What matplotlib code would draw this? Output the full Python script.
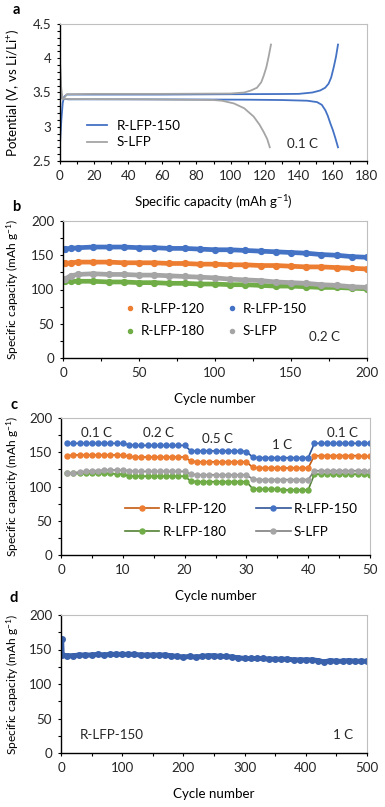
"""LFP 正极材料电化学性能四联图 (a 充放电曲线, b 0.2C 循环, c 倍率性能, d 1C 长循环)"""

import matplotlib.pyplot as plt
from matplotlib.ticker import MultipleLocator

plt.rcParams["font.family"] = ["Lato", "DejaVu Sans"]
plt.rcParams["mathtext.default"] = "regular"

FS = 9.6  # 全图字号
FS_Y = 8.6  # 纵轴标题字号

# ---------------- 颜色 ----------------
ORANGE = "#ED7D31"
BLUE = "#4472C4"
GREEN = "#70AD47"
GRAY = "#A5A5A5"
ORANGE_DARK = "#C55A11"
BLUE_DARK = "#2F5597"
GREEN_DARK = "#548235"
GRAY_DARK = "#7F7F7F"
TEXT = "#262626"

# ---------------- a: 0.1C 充放电曲线 ----------------
r150_chg_cap = [0, 0.8, 1.6, 2.5, 4, 20, 60, 100, 130, 140, 148, 152.6, 155.5, 157.5, 159, 160.5, 161.8, 163]
r150_chg_v = [2.75, 3.1, 3.35, 3.44, 3.47, 3.47, 3.47, 3.475, 3.478, 3.48, 3.50, 3.53, 3.57, 3.63, 3.72, 3.87, 4.02, 4.2]
r150_dis_cap = [0, 0.5, 1.5, 5, 40, 80, 110, 130, 145, 150.7, 153.5, 155.6, 157, 158.5, 160, 161.5, 163]
r150_dis_v = [3.65, 3.46, 3.41, 3.40, 3.40, 3.398, 3.395, 3.39, 3.38, 3.36, 3.32, 3.24, 3.16, 3.05, 2.95, 2.83, 2.70]
slfp_chg_cap = [0, 0.6, 1.5, 2.5, 4, 20, 60, 100, 108, 112, 115.5, 118, 119.5, 121, 122.3, 123.7]
slfp_chg_v = [3.95, 3.6, 3.40, 3.42, 3.475, 3.48, 3.48, 3.485, 3.50, 3.53, 3.57, 3.65, 3.75, 3.87, 4.02, 4.2]
slfp_dis_cap = [0, 0.5, 1.5, 5, 50, 90, 95, 102, 108, 113.5, 117, 119.5, 121.5, 123]
slfp_dis_v = [3.95, 3.5, 3.41, 3.405, 3.40, 3.39, 3.38, 3.34, 3.27, 3.15, 3.03, 2.92, 2.82, 2.70]

# ---------------- b: 0.2C 循环 ----------------
cyc_b = [1, 5, 10, 20, 30, 40, 50, 60, 70, 80, 90, 100, 110, 120, 130, 140, 150, 160, 170, 180, 190, 200]
b_r120 = [138, 139, 140, 140, 140, 139, 139, 139, 138, 138, 137, 137, 136, 136, 135, 135, 134, 133, 133, 132, 131, 130]
b_r150 = [159, 160, 161, 162, 162, 162, 161, 161, 160, 160, 159, 158, 158, 157, 156, 155, 154, 153, 151, 150, 148, 147]
b_r180 = [113, 112, 112, 112, 111, 111, 110, 110, 109, 109, 108, 108, 107, 107, 106, 105, 105, 104, 103, 103, 102, 101]
b_slfp = [115, 120, 122, 123, 122, 122, 121, 121, 120, 119, 118, 117, 115, 114, 113, 111, 110, 109, 107, 106, 104, 103]

# ---------------- c: 倍率性能 ----------------
cyc_c = list(range(1, 51))
c_r120 = [145, 146, 146, 146, 146, 146, 146, 146, 146, 146,
          144, 143, 143, 143, 143, 143, 143, 143, 143, 143,
          137, 136, 136, 136, 136, 136, 136, 136, 136, 136,
          128, 127, 127, 127, 127, 127, 127, 127, 127, 127,
          145, 145, 145, 145, 145, 145, 145, 145, 144, 144]
c_r150 = [163, 163, 163, 163, 163, 163, 163, 163, 163, 163,
          161, 160, 160, 160, 160, 160, 160, 160, 160, 160,
          152, 152, 152, 152, 152, 152, 152, 152, 152, 151,
          143, 142, 142, 142, 142, 142, 142, 142, 142, 142,
          163, 163, 163, 163, 163, 163, 163, 163, 163, 163]
c_r180 = [120, 119, 119, 119, 119, 119, 119, 119, 118, 118,
          115, 115, 115, 115, 115, 115, 115, 115, 115, 115,
          108, 107, 107, 107, 107, 107, 107, 107, 107, 107,
          97, 96, 96, 96, 96, 95, 95, 95, 95, 95,
          118, 118, 118, 118, 118, 118, 118, 118, 118, 117]
c_slfp = [119, 120, 121, 122, 123, 123, 124, 124, 124, 124,
          123, 122, 122, 122, 122, 122, 122, 122, 122, 122,
          118, 117, 117, 117, 117, 117, 117, 117, 117, 117,
          111, 110, 110, 110, 110, 110, 110, 110, 110, 110,
          123, 123, 123, 123, 123, 123, 123, 123, 123, 122]
rate_labels = ["0.1 C", "0.2 C", "0.5 C", "1 C", "0.1 C"]
rate_label_x = [5.8, 15.7, 25.4, 35.8, 45.6]
rate_label_y = [178, 178, 169, 160, 178]

# ---------------- d: 1C 长循环 ----------------
cyc_d = [1, 2, 10, 20, 30, 40, 50, 60, 70, 80, 90, 100, 110, 120, 130, 140, 150, 160, 170, 180, 190,
         200, 210, 220, 230, 240, 250, 260, 270, 280, 290, 300, 310, 320, 330, 340, 350, 360, 370,
         380, 390, 400, 410, 420, 430, 440, 450, 460, 470, 480, 490, 500]
d_r150 = [165, 142, 141, 141, 142, 142, 142, 143, 142, 143, 143, 143, 143, 143, 142, 142, 142, 142,
          142, 141, 140, 139, 140, 139, 140, 141, 141, 140, 140, 139, 138, 137, 137, 137, 137, 136,
          136, 136, 136, 135, 135, 135, 135, 134, 132, 134, 133, 133, 134, 133, 133, 133]


def style_axis(ax, xmax, xmajor, xminor, ymin, ymax, ymajor, yminor, ylab_x, ylab_y=0.5):
    """Excel 风格坐标轴: 左下黑色, 右上浅灰, 刻度朝外"""
    ax.set_xlim(0, xmax)
    ax.set_ylim(ymin, ymax)
    ax.xaxis.set_major_locator(MultipleLocator(xmajor))
    ax.xaxis.set_minor_locator(MultipleLocator(xminor))
    ax.yaxis.set_major_locator(MultipleLocator(ymajor))
    ax.yaxis.set_minor_locator(MultipleLocator(yminor))
    for side in ["left", "bottom"]:
        ax.spines[side].set_color("black")
        ax.spines[side].set_linewidth(1.0)
    for side in ["top", "right"]:
        ax.spines[side].set_color("#BFBFBF")
        ax.spines[side].set_linewidth(0.8)
    ax.tick_params(which="both", direction="out", length=2.4, width=0.8, colors="black",
                   labelsize=FS, labelcolor=TEXT, pad=4)
    # 坐标轴标题位置按参考图像素换算
    ax.yaxis.set_label_coords(ylab_x, ylab_y)
    ax.yaxis.label.set_verticalalignment("center")
    ax.xaxis.set_label_coords(0.5, -0.30)
    ax.xaxis.label.set_verticalalignment("center")


fig = plt.figure(figsize=(3.85, 8.07), dpi=100)
W, H = 385.0, 807.0


def add_axes(left, right, top, bottom):
    return fig.add_axes([left / W, 1 - bottom / H, (right - left) / W, (bottom - top) / H])


ax_a = add_axes(60, 367, 24, 161)
ax_b = add_axes(63, 367, 221, 358)
ax_c = add_axes(61, 370, 418, 555)
ax_d = add_axes(61, 367, 615, 753)

CAP_LABEL = "Specific capacity (mAh g$^{-1}$)"

# a
ax_a.plot(r150_chg_cap, r150_chg_v, color=BLUE, lw=1.3, label="R-LFP-150")
ax_a.plot(r150_dis_cap, r150_dis_v, color=BLUE, lw=1.3)
ax_a.plot(slfp_chg_cap, slfp_chg_v, color=GRAY, lw=1.3, label="S-LFP")
ax_a.plot(slfp_dis_cap, slfp_dis_v, color=GRAY, lw=1.3)
style_axis(ax_a, 180, 20, 10, 2.5, 4.5, 0.5, 0.1, (13 - 60) / 307)
ax_a.set_yticks([2.5, 3, 3.5, 4, 4.5])
ax_a.set_yticklabels(["2.5", "3", "3.5", "4", "4.5"])
ax_a.set_xlabel(CAP_LABEL, fontsize=FS)
ax_a.set_ylabel("Potential (V, vs Li/Li$^{+}$)", fontsize=FS)
ax_a.legend(loc="center left", bbox_to_anchor=(0.065, 0.197), frameon=False, fontsize=FS,
            handlelength=1.5, handletextpad=0.75, labelspacing=0.35, borderpad=0)
ax_a.text(142, 2.75, "0.1 C", fontsize=FS, ha="center", va="center", color=TEXT)

# b
b_series = [(b_r120, ORANGE, "R-LFP-120"), (b_r150, BLUE, "R-LFP-150"),
            (b_r180, GREEN, "R-LFP-180"), (b_slfp, GRAY, "S-LFP")]
b_handles = {}
for y, col, lab in b_series:
    ax_b.plot(cyc_b, y, color=col, lw=3.4, solid_capstyle="round")
    b_handles[lab], = ax_b.plot(cyc_b, y, "o", color=col, ms=4.2, label=lab)
style_axis(ax_b, 200, 50, 25, 0, 200, 50, 25, (13 - 63) / 304, 0.46)
ax_b.set_xlabel("Cycle number", fontsize=FS)
ax_b.set_ylabel(CAP_LABEL, fontsize=FS_Y)
# 图例按行排列: 120/150 一行, 180/S-LFP 一行
b_order = ["R-LFP-120", "R-LFP-180", "R-LFP-150", "S-LFP"]
ax_b.legend([b_handles[k] for k in b_order], b_order, ncol=2, loc="center left",
            bbox_to_anchor=(0.184, 0.277), frameon=False, fontsize=FS, handlelength=0.6,
            handletextpad=0.5, columnspacing=1.8, labelspacing=0.8, borderpad=0, markerscale=0.7)
ax_b.text(172, 30, "0.2 C", fontsize=FS, ha="center", va="center", color=TEXT)

# c
c_series = [(c_r120, ORANGE, ORANGE_DARK, "R-LFP-120"), (c_r150, BLUE, BLUE_DARK, "R-LFP-150"),
            (c_r180, GREEN, GREEN_DARK, "R-LFP-180"), (c_slfp, GRAY, GRAY_DARK, "S-LFP")]
c_handles = {}
for y, col, dark, lab in c_series:
    c_handles[lab], = ax_c.plot(cyc_c, y, "-o", color=dark, lw=1.2, ms=3.6, mfc=col, mec=col, label=lab)
style_axis(ax_c, 50, 10, 5, 0, 200, 50, 25, (13 - 61) / 309, 0.41)
ax_c.set_xlabel("Cycle number", fontsize=FS)
ax_c.set_ylabel(CAP_LABEL, fontsize=FS_Y)
ax_c.legend([c_handles[k] for k in b_order], b_order, ncol=2, loc="center left",
            bbox_to_anchor=(0.184, 0.252), frameon=False, fontsize=FS, handlelength=2.6,
            handletextpad=0.25, columnspacing=2.2, labelspacing=0.85, borderpad=0, numpoints=1)
for lab, x, y in zip(rate_labels, rate_label_x, rate_label_y):
    ax_c.text(x, y, lab, fontsize=FS, ha="center", va="center", color=TEXT)

# d
ax_d.plot(cyc_d, d_r150, color="#3A62AC", lw=3.6, solid_capstyle="round")
ax_d.plot(cyc_d, d_r150, "o", color="#3A62AC", ms=4)
style_axis(ax_d, 500, 100, 50, 0, 200, 50, 25, (13 - 61) / 306, 0.40)
ax_d.set_xlabel("Cycle number", fontsize=FS)
ax_d.set_ylabel(CAP_LABEL, fontsize=FS_Y)
ax_d.text(31, 26, "R-LFP-150", fontsize=FS, ha="left", va="center", color=TEXT)
ax_d.text(477, 26, "1 C", fontsize=FS, ha="right", va="center", color=TEXT)

# 子图编号
for lab, x, y in [("a", 16, 10), ("b", 16, 207), ("c", 14, 405), ("d", 14, 598)]:
    fig.text(x / W, 1 - y / H, lab, fontsize=10.5, fontweight="bold", ha="center", va="center")

plt.savefig("out.png", dpi=100)
plt.close()
